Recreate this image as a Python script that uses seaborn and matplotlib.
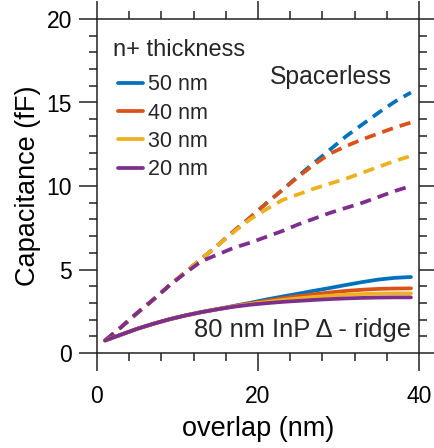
import numpy as np
import pandas as pd
import matplotlib
matplotlib.use("Agg")
import matplotlib.pyplot as plt
import seaborn as sns
from matplotlib.ticker import MultipleLocator

# ---- data ----
overlap = [1, 3, 5, 7, 9, 11, 13, 15, 17, 19, 21, 23, 25, 27, 29, 31, 33, 35, 37, 39]
thickness = ["50 nm", "40 nm", "30 nm", "20 nm"]

spacerless_50 = [0.75, 1.55, 2.4, 3.2, 4.05, 4.85, 5.65, 6.45, 7.3, 8.1, 8.95, 9.75, 10.6, 11.4, 12.2, 13.0, 13.7, 14.4, 15.05, 15.6]
spacerless_40 = [0.75, 1.55, 2.4, 3.2, 4.05, 4.85, 5.65, 6.45, 7.3, 8.1, 8.95, 9.75, 10.55, 11.3, 11.95, 12.4, 12.8, 13.15, 13.5, 13.8]
spacerless_30 = [0.75, 1.55, 2.4, 3.2, 4.05, 4.85, 5.65, 6.45, 7.25, 8.0, 8.6, 9.15, 9.5, 9.85, 10.15, 10.45, 10.8, 11.15, 11.5, 11.8]
spacerless_20 = [0.75, 1.55, 2.4, 3.2, 4.05, 4.8, 5.5, 5.9, 6.3, 6.6, 6.95, 7.3, 7.7, 8.05, 8.4, 8.7, 9.0, 9.35, 9.7, 10.0]

ridge_50 = [0.75, 1.1, 1.45, 1.75, 2.02, 2.25, 2.45, 2.63, 2.82, 3.0, 3.2, 3.38, 3.55, 3.73, 3.9, 4.08, 4.25, 4.4, 4.5, 4.55]
ridge_40 = [0.75, 1.1, 1.45, 1.75, 2.02, 2.25, 2.45, 2.63, 2.8, 2.97, 3.12, 3.27, 3.4, 3.52, 3.63, 3.72, 3.79, 3.84, 3.86, 3.87]
ridge_30 = [0.75, 1.1, 1.45, 1.75, 2.02, 2.25, 2.45, 2.62, 2.79, 2.93, 3.05, 3.17, 3.27, 3.36, 3.43, 3.49, 3.53, 3.56, 3.57, 3.57]
ridge_20 = [0.75, 1.1, 1.45, 1.75, 2.02, 2.25, 2.45, 2.62, 2.77, 2.89, 2.98, 3.06, 3.12, 3.18, 3.23, 3.27, 3.3, 3.32, 3.33, 3.33]

colors = ["#0072BD", "#D95319", "#EDB120", "#7E2F8E"]

def long_df(series):
    rows = []
    for name, vals in zip(thickness, series):
        for x, y in zip(overlap, vals):
            rows.append({"overlap": x, "cap": y, "thickness": name})
    return pd.DataFrame(rows)

df_dash = long_df([spacerless_50, spacerless_40, spacerless_30, spacerless_20])
df_solid = long_df([ridge_50, ridge_40, ridge_30, ridge_20])

sns.set_theme(style="white")
plt.rcParams["font.family"] = ["Liberation Sans", "DejaVu Sans"]

fig = plt.figure(figsize=(4.35, 4.48), dpi=100)
ax = fig.add_axes([97/435, 1-353/448, (419-97)/435, (353-19)/448])

palette = dict(zip(thickness, colors))
lw = 2.7
sns.lineplot(data=df_dash, x="overlap", y="cap", hue="thickness", hue_order=thickness,
             palette=palette, lw=lw, ax=ax, legend=False)
for ln in ax.lines:
    ln.set_dashes([3.0, 1.9])
    ln.set_dash_capstyle("butt")
sns.lineplot(data=df_solid, x="overlap", y="cap", hue="thickness", hue_order=thickness,
             palette=palette, lw=lw, ax=ax, legend=True)

ax.set_xlim(0, 40)
ax.set_ylim(0, 20)
ax.xaxis.set_major_locator(MultipleLocator(20))
ax.xaxis.set_minor_locator(MultipleLocator(4))
ax.yaxis.set_major_locator(MultipleLocator(5))
ax.yaxis.set_minor_locator(MultipleLocator(1))

axis_color = "#222222"
for s in ax.spines.values():
    s.set_visible(True)
    s.set_linewidth(1.1)
    s.set_color(axis_color)

ax.tick_params(which="both", direction="out", top=True, right=True, bottom=True, left=True,
               color=axis_color, width=1.1, labelcolor="black")
ax.tick_params(which="major", length=13)
ax.tick_params(which="minor", length=6)
ax.tick_params(axis="x", which="major", labelsize=16.5, pad=10)
ax.tick_params(axis="y", which="major", labelsize=16.5, pad=5)

ax.set_xlabel("overlap (nm)", fontsize=19.5, labelpad=6, color="black")
ax.set_ylabel("Capacitance (fF)", fontsize=19.5, labelpad=4, color="black")

leg = ax.legend(loc="upper left", bbox_to_anchor=(0.065, 0.835),
                frameon=False, fontsize=15.5,
                handlelength=1.15, handletextpad=0.23, labelspacing=0.345, borderaxespad=0,
                borderpad=0)
for h in leg.legend_handles:
    h.set_linewidth(lw)

ax.text(0.05, 0.907, "n+ thickness", transform=ax.transAxes, fontsize=17, ha="left", va="center")
ax.text(0.915, 0.825, "Spacerless", transform=ax.transAxes, fontsize=17.8, ha="right", va="center")
ax.text(0.975, 0.07, "80 nm InP \u0394 - ridge", transform=ax.transAxes, fontsize=18.4, ha="right", va="center")

fig.savefig("out.png", dpi=100)
